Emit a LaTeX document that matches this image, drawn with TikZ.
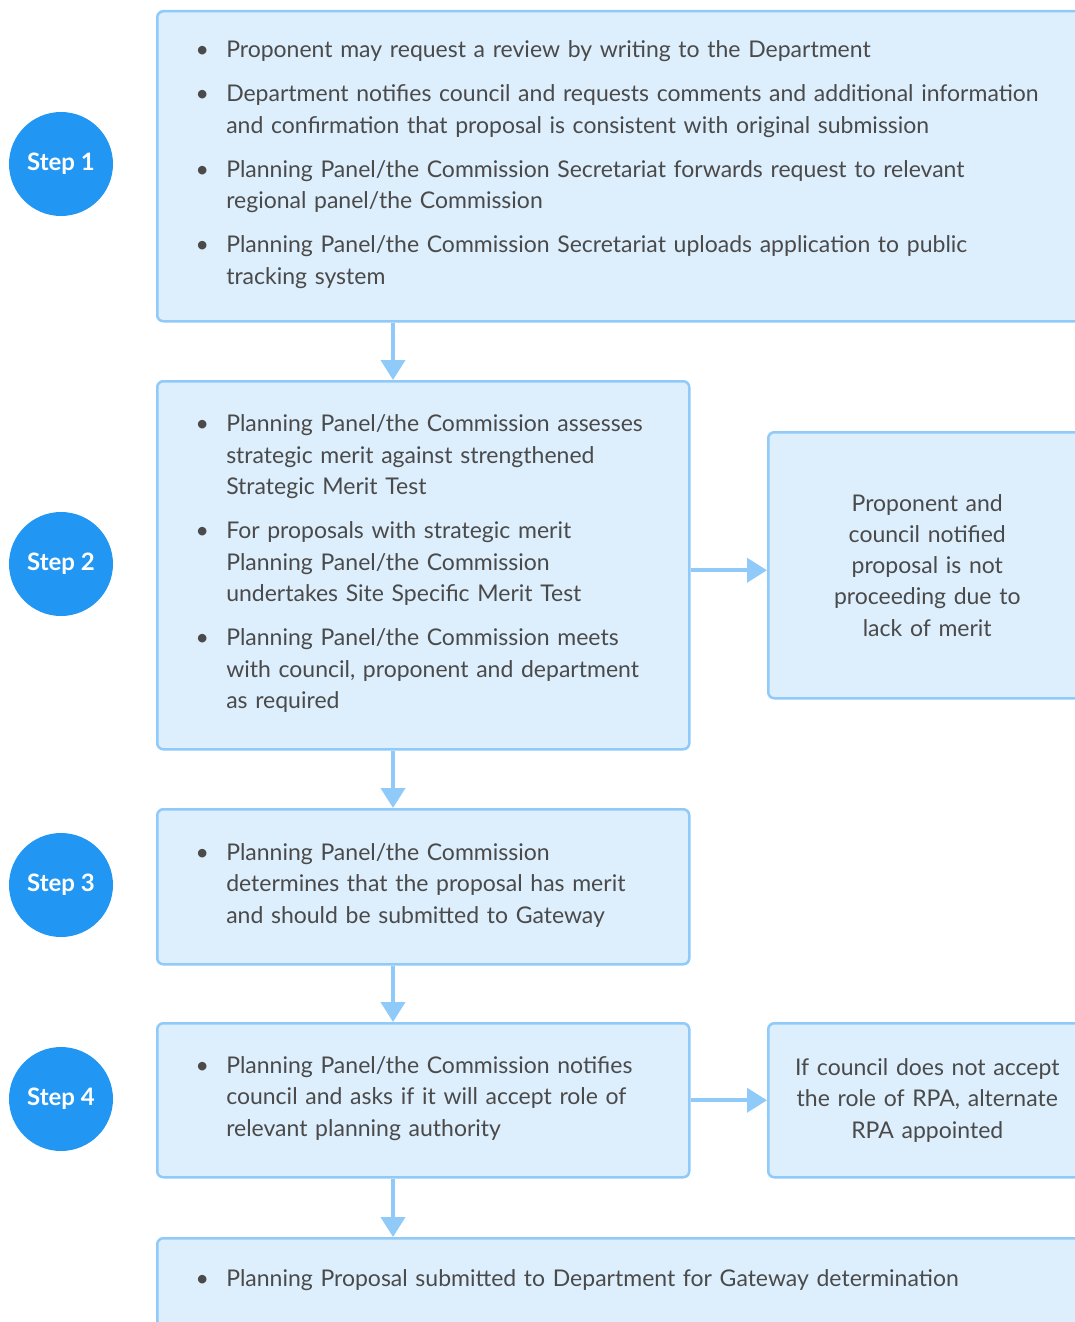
\documentclass[tikz,border=0pt]{standalone}
\usepackage{fontspec}
\setmainfont{Lato}
\usetikzlibrary{positioning, arrows.meta}

\definecolor{stepblue}{HTML}{2196F3}
\definecolor{boxfill}{HTML}{DDEEFC}
\definecolor{boxline}{HTML}{90CAF9}
\definecolor{boxtext}{HTML}{4A4A4A}

\newenvironment{pointlist}{\vspace*{-18pt}\begin{list}{\makebox[10pt]{\textbullet}\hspace{19pt}}{%
  \setlength{\leftmargin}{29pt}\setlength{\labelwidth}{29pt}%
  \setlength{\labelsep}{0pt}\setlength{\itemsep}{12.5pt}%
  \setlength{\parsep}{0pt}\setlength{\topsep}{0pt}\setlength{\partopsep}{0pt}}}%
  {\end{list}}

\begin{document}
\begin{tikzpicture}[x=1pt, y=-1pt,
    stepcircle/.style={circle, fill=stepblue, text=white, minimum size=104pt, inner sep=0pt,
      font=\fontsize{24}{28}\selectfont\bfseries},
    pointbox/.style={draw=boxline, line width=2.5pt, fill=boxfill, rounded corners=6pt,
      text=boxtext, anchor=north west, inner xsep=40pt, inner ysep=0pt, align=left,
      font=\fontsize{23}{31.5}\selectfont},
    notebox/.style={draw=boxline, line width=2.5pt, fill=boxfill, rounded corners=6pt,
      text=boxtext, anchor=north west, inner xsep=0pt, inner ysep=0pt, align=center,
      text width=318pt, font=\fontsize{23}{31.25}\selectfont},
    flow/.style={draw=boxline, line width=4pt, -{Triangle[width=24pt,length=20pt]}}]

				\useasboundingbox (0,0) rectangle (1075,1322);
				\clip (0,0) rectangle (1075,1322);

				\node[stepcircle] (c1) at (61,164) {Step 1};
				\node[stepcircle] (c2) at (61,564) {Step 2};
				\node[stepcircle] (c3) at (61,885) {Step 3};
				\node[stepcircle] (c4) at (61,1099) {Step 4};

				\node[pointbox, text width=864pt, minimum height=310pt] (s1) at (156,10) {%
					\begin{pointlist}
					\item Proponent may request a review by writing to the Department
					\item Department notifies council and requests comments and additional information\\
					and confirmation that proposal is consistent with original submission
					\item Planning Panel/the Commission Secretariat forwards request to relevant\\
					regional panel/the Commission
					\item Planning Panel/the Commission Secretariat uploads application to public\\
					tracking system
					\end{pointlist}};

				\node[pointbox, text width=452pt, minimum height=368pt] (s2) at (156,380) {%
					\begin{pointlist}
					\item Planning Panel/the Commission assesses\\
					strategic merit against strengthened\\
					Strategic Merit Test
					\item For proposals with strategic merit\\
					Planning Panel/the Commission\\
					undertakes Site Specific Merit Test
					\item Planning Panel/the Commission meets\\
					with council, proponent and department\\
					as required
					\end{pointlist}};

				\node[pointbox, text width=452pt, minimum height=155pt] (s3) at (156,808) {%
					\begin{pointlist}
					\item Planning Panel/the Commission\\
					determines that the proposal has merit\\
					and should be submitted to Gateway
					\end{pointlist}};

				\node[pointbox, text width=452pt, minimum height=154pt] (s4) at (156,1022) {%
					\begin{pointlist}
					\item Planning Panel/the Commission notifies\\
					council and asks if it will accept role of\\
					relevant planning authority
					\end{pointlist}};

				\node[pointbox, text width=864pt, minimum height=88pt] (s5) at (156,1237) {%
					\begin{pointlist}
					\item Planning Proposal submitted to Department for Gateway determination
					\end{pointlist}};

				\node[notebox, minimum height=266pt] (n1) at (767,431)
					{Proponent and\\ council notified\\ proposal is not\\ proceeding due to\\ lack of merit};
				\node[notebox, minimum height=154pt] (n2) at (767,1022)
					{If council does not accept\\ the role of RPA, alternate\\ RPA appointed};

				\coordinate (ax) at (393,0);
				\draw[flow] (ax |- s1.south) -- (ax |- s2.north);
				\draw[flow] (ax |- s2.south) -- (ax |- s3.north);
				\draw[flow] (ax |- s3.south) -- (ax |- s4.north);
				\draw[flow] (ax |- s4.south) -- (ax |- s5.north);
				\draw[flow] ([yshift=-5pt]s2.east) -- ([yshift=-5pt]n1.west);
				\draw[flow] (s4.east) -- (n2.west);
			\end{tikzpicture}
\end{document}
